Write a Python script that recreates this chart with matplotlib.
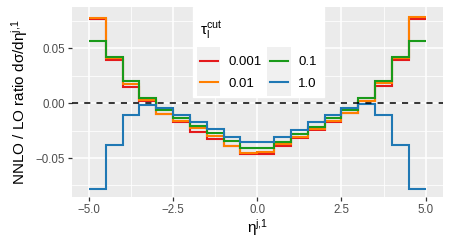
import matplotlib
matplotlib.use("Agg")
import matplotlib.pyplot as plt
from matplotlib.legend_handler import HandlerLine2D
from matplotlib.patches import Rectangle
from matplotlib.offsetbox import VPacker, DrawingArea
import numpy as np

plt.rcParams['font.family'] = ['Liberation Sans', 'DejaVu Sans']
plt.rcParams['mathtext.fontset'] = 'custom'
plt.rcParams['mathtext.rm'] = 'Liberation Sans'
plt.rcParams['mathtext.it'] = 'Liberation Sans'
plt.rcParams['mathtext.default'] = 'regular'

# bin edges in eta^{j,1}
bin_edges = [-5.0, -4.5, -4.0, -3.5, -3.0, -2.5, -2.0, -1.5, -1.0, -0.5, 0.0,
             0.5, 1.0, 1.5, 2.0, 2.5, 3.0, 3.5, 4.0, 4.5, 5.0]

tau_labels = ["0.001", "0.01", "0.1", "1.0"]
tau_colors = ["#E41A1C", "#FF7F00", "#1A9A1A", "#1F78B4"]

ratio_0001 = [0.0763, 0.0394, 0.0148, 0.0018, -0.0097, -0.0173, -0.0261, -0.0324, -0.0388, -0.0464,
              -0.0464, -0.0388, -0.0315, -0.0245, -0.0170, -0.0090, 0.0015, 0.0152, 0.0390, 0.0770]
ratio_001 = [0.0778, 0.0412, 0.0173, 0.0025, -0.0097, -0.0164, -0.0227, -0.0297, -0.0388, -0.0452,
             -0.0443, -0.0370, -0.0309, -0.0239, -0.0160, -0.0088, 0.0021, 0.0181, 0.0409, 0.0785]
ratio_01 = [0.0561, 0.0421, 0.0198, 0.0043, -0.0064, -0.0139, -0.0209, -0.0276, -0.0342, -0.0406,
            -0.0406, -0.0352, -0.0285, -0.0215, -0.0139, -0.0064, 0.0043, 0.0199, 0.0418, 0.0566]
ratio_1 = [-0.0785, -0.0382, -0.0106, -0.0018, -0.0048, -0.0109, -0.0173, -0.0239, -0.0306, -0.0352,
           -0.0358, -0.0306, -0.0245, -0.0176, -0.0112, -0.0045, -0.0012, -0.0106, -0.0382, -0.0782]

series = [ratio_0001, ratio_001, ratio_01, ratio_1]

LEG_FS = 9.5
LEG_SPACING = 0.72


# legend key with grey background, like ggplot
class KeyHandler(HandlerLine2D):
    def create_artists(self, legend, orig_handle, xdescent, ydescent, width, height, fontsize, trans):
        gap = LEG_SPACING * fontsize
        bg = Rectangle((-xdescent - 2, -ydescent - gap / 2 - 3), width + 4, height + gap + 6,
                       facecolor="#F0F0F0", edgecolor="none", transform=trans)
        arts = super().create_artists(legend, orig_handle, xdescent, ydescent, width, height, fontsize, trans)
        return [bg] + arts


fig = plt.figure(figsize=(4.5, 2.5), dpi=100)
ax = fig.add_axes([0.16, 0.212, 0.824, 0.76])

# ggplot-ish panel
ax.set_facecolor("#EBEBEB")
for s in ax.spines.values():
    s.set_visible(False)
ax.set_xticks([-5.0, -2.5, 0.0, 2.5, 5.0])
ax.set_xticks([-3.75, -1.25, 1.25, 3.75], minor=True)
ax.set_yticks([-0.05, 0.0, 0.05])
ax.set_yticks([-0.075, -0.025, 0.025, 0.075], minor=True)
ax.set_xticklabels(["\u22125.0", "\u22122.5", "0.0", "2.5", "5.0"])
ax.set_yticklabels(["\u22120.05", "0.00", "0.05"])
ax.grid(which="major", color="white", lw=1.1)
ax.grid(which="minor", color="white", lw=0.55)
ax.set_axisbelow(True)
ax.tick_params(which="major", length=3, width=0.9, color="#333333", labelcolor="#4D4D4D",
               labelsize=8.3, pad=2)
ax.tick_params(which="minor", length=0)

lines = []
for vals, lab, col in zip(series, tau_labels, tau_colors):
    ax.stairs(vals, bin_edges, baseline=None, color=col, lw=1.5)
    lines.append(plt.Line2D([], [], color=col, lw=1.5, label=lab))

ax.axhline(0, color="black", lw=1.1, ls=(0, (4, 4)))

ax.set_xlim(-5.505, 5.51)
ax.set_ylim(-0.0855, 0.0875)

ax.set_xlabel(r"$\eta^{j{,}1}$", fontsize=11, labelpad=1)
ax.set_ylabel(r"NNLO / LO ratio d$\sigma$/d$\eta^{j{,}1}$", fontsize=11, labelpad=4)

leg = ax.legend(handles=lines, title=r"$\tau_l^{cut}$", ncol=2, loc="upper left",
                bbox_to_anchor=(0.325, 1.0), frameon=True, fontsize=LEG_FS,
                title_fontsize=11, handlelength=1.35, columnspacing=0.65,
                handletextpad=0.8, labelspacing=LEG_SPACING, borderpad=0.55,
                borderaxespad=0.0, fancybox=False,
                handler_map={plt.Line2D: KeyHandler()})
leg.get_frame().set_facecolor("white")
leg.get_frame().set_edgecolor("white")
leg.get_frame().set_alpha(1)
# push the title down a bit and open up the gap under it
title_box = VPacker(children=[DrawingArea(1, 3.5), leg._legend_title_box], pad=0, sep=0, align="left")
leg._legend_box._children[0] = title_box
leg._legend_box.sep = 11.0
leg._legend_box.align = "left"

fig.savefig("out.png", dpi=100)
